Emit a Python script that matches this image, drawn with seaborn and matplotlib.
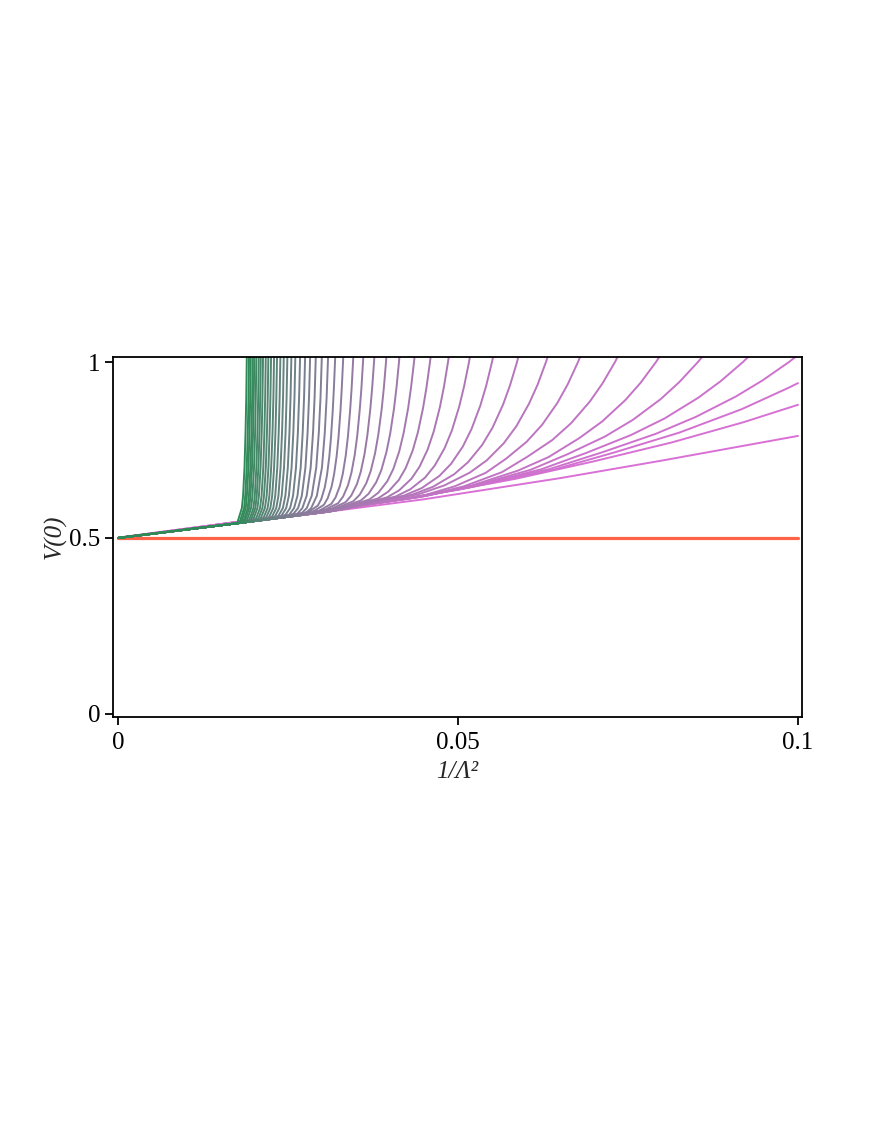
import numpy as np
import pandas as pd
import matplotlib
matplotlib.use("Agg")
import matplotlib.pyplot as plt
import seaborn as sns

# ============================================================
# DATA
# ============================================================
# shared lower branch that every curve starts on
BASE_X = [0.0, 0.018, 0.031, 0.045, 0.065, 0.080, 0.100]
BASE_Y = [0.500, 0.543, 0.575, 0.610, 0.670, 0.720, 0.790]

# steep (green -> grey) curves: x where each one passes these V(0) levels
GREEN_LEVELS = [0.585, 0.62, 0.70, 0.80, 0.90, 1.02]
GREEN_DEP_Y = [0.5419, 0.5426, 0.5432, 0.5439, 0.5445, 0.5452, 0.5460, 0.5467,
               0.5474, 0.5483, 0.5492, 0.5500, 0.5510, 0.5520, 0.5530, 0.5540,
               0.5551, 0.5563, 0.5574, 0.5587, 0.5601, 0.5614, 0.5629, 0.5644,
               0.5659]
GREEN_X = [
    [0.01752, 0.01821, 0.01839, 0.01860, 0.01875, 0.01886, 0.01894],
    [0.01785, 0.01854, 0.01871, 0.01893, 0.01908, 0.01919, 0.01927],
    [0.01810, 0.01878, 0.01895, 0.01918, 0.01933, 0.01944, 0.01952],
    [0.01838, 0.01907, 0.01925, 0.01947, 0.01963, 0.01973, 0.01982],
    [0.01860, 0.01929, 0.01948, 0.01970, 0.01986, 0.01996, 0.02005],
    [0.01888, 0.01957, 0.01977, 0.02000, 0.02016, 0.02026, 0.02035],
    [0.01921, 0.01991, 0.02011, 0.02034, 0.02050, 0.02061, 0.02070],
    [0.01949, 0.02019, 0.02040, 0.02064, 0.02080, 0.02091, 0.02100],
    [0.01980, 0.02050, 0.02072, 0.02096, 0.02113, 0.02124, 0.02133],
    [0.02016, 0.02088, 0.02111, 0.02136, 0.02152, 0.02164, 0.02173],
    [0.02051, 0.02123, 0.02147, 0.02173, 0.02190, 0.02202, 0.02211],
    [0.02086, 0.02160, 0.02186, 0.02212, 0.02229, 0.02241, 0.02251],
    [0.02125, 0.02200, 0.02226, 0.02252, 0.02272, 0.02285, 0.02295],
    [0.02164, 0.02240, 0.02267, 0.02295, 0.02315, 0.02328, 0.02339],
    [0.02205, 0.02283, 0.02312, 0.02342, 0.02363, 0.02377, 0.02388],
    [0.02248, 0.02327, 0.02359, 0.02390, 0.02412, 0.02427, 0.02438],
    [0.02291, 0.02373, 0.02407, 0.02441, 0.02464, 0.02479, 0.02491],
    [0.02339, 0.02424, 0.02461, 0.02497, 0.02521, 0.02537, 0.02550],
    [0.02385, 0.02473, 0.02513, 0.02552, 0.02578, 0.02595, 0.02608],
    [0.02439, 0.02530, 0.02574, 0.02617, 0.02645, 0.02663, 0.02678],
    [0.02495, 0.02589, 0.02639, 0.02686, 0.02716, 0.02736, 0.02752],
    [0.02549, 0.02648, 0.02703, 0.02756, 0.02788, 0.02809, 0.02826],
    [0.02609, 0.02711, 0.02774, 0.02833, 0.02868, 0.02891, 0.02909],
    [0.02670, 0.02776, 0.02849, 0.02915, 0.02953, 0.02978, 0.02998],
    [0.02731, 0.02841, 0.02924, 0.02999, 0.03041, 0.03068, 0.03090],
]

# slower (grey -> purple) curves, points along each one
PURPLE_X = [
    [0.02771, 0.02939, 0.02989, 0.03040, 0.03073, 0.03107, 0.03132, 0.03157, 0.03174, 0.03191, 0.03199],
    [0.02839, 0.03027, 0.03083, 0.03140, 0.03177, 0.03215, 0.03243, 0.03271, 0.03290, 0.03309, 0.03318],
    [0.02921, 0.03135, 0.03199, 0.03263, 0.03306, 0.03349, 0.03381, 0.03413, 0.03435, 0.03456, 0.03467],
    [0.02993, 0.03237, 0.03310, 0.03383, 0.03432, 0.03481, 0.03518, 0.03554, 0.03579, 0.03603, 0.03615],
    [0.03065, 0.03345, 0.03429, 0.03513, 0.03569, 0.03625, 0.03667, 0.03709, 0.03737, 0.03765, 0.03779],
    [0.03136, 0.03458, 0.03555, 0.03651, 0.03716, 0.03780, 0.03828, 0.03877, 0.03909, 0.03941, 0.03957],
    [0.03202, 0.03574, 0.03686, 0.03797, 0.03872, 0.03946, 0.04002, 0.04058, 0.04095, 0.04132, 0.04151],
    [0.03263, 0.03699, 0.03830, 0.03961, 0.04048, 0.04135, 0.04200, 0.04266, 0.04309, 0.04353, 0.04375],
    [0.03313, 0.03823, 0.03976, 0.04129, 0.04231, 0.04333, 0.04410, 0.04486, 0.04537, 0.04588, 0.04614],
    [0.03353, 0.03953, 0.04133, 0.04313, 0.04433, 0.04553, 0.04643, 0.04733, 0.04793, 0.04853, 0.04883],
    [0.03367, 0.04085, 0.04300, 0.04516, 0.04659, 0.04803, 0.04911, 0.05018, 0.05090, 0.05162, 0.05198],
    [0.03350, 0.04210, 0.04468, 0.04726, 0.04898, 0.05070, 0.05199, 0.05328, 0.05414, 0.05500, 0.05543],
    [0.03298, 0.04326, 0.04634, 0.04943, 0.05148, 0.05354, 0.05508, 0.05662, 0.05765, 0.05868, 0.05919],
    [0.03184, 0.04428, 0.04801, 0.05174, 0.05423, 0.05672, 0.05859, 0.06045, 0.06170, 0.06294, 0.06356],
    [0.02990, 0.04500, 0.04953, 0.05406, 0.05708, 0.06010, 0.06237, 0.06463, 0.06614, 0.06765, 0.06841],
    [0.02689, 0.04537, 0.05091, 0.05646, 0.06015, 0.06385, 0.06662, 0.06939, 0.07124, 0.07309, 0.07401],
    [0.02262, 0.04522, 0.05200, 0.05878, 0.06330, 0.06782, 0.07121, 0.07460, 0.07686, 0.07912, 0.08025],
    [0.01689, 0.04425, 0.05246, 0.06067, 0.06614, 0.07161, 0.07571, 0.07982, 0.08255, 0.08529, 0.08666],
    [0.00956, 0.04250, 0.05238, 0.06226, 0.06885, 0.07544, 0.08038, 0.08532, 0.08862, 0.09191, 0.09356],
    [0.00073, 0.03991, 0.05166, 0.06342, 0.07125, 0.07909, 0.08497, 0.09084, 0.09476, 0.09868, 0.10064],
]
PURPLE_Y = [
    [0.5697, 0.5921, 0.6106, 0.6434, 0.6785, 0.7307, 0.7857, 0.8597, 0.9230, 1.0, 1.0447],
    [0.5714, 0.5941, 0.6127, 0.6454, 0.6804, 0.7323, 0.7871, 0.8607, 0.9235, 1.0, 1.0445],
    [0.5734, 0.5966, 0.6152, 0.6479, 0.6828, 0.7343, 0.7886, 0.8617, 0.9241, 1.0, 1.0441],
    [0.5752, 0.5989, 0.6177, 0.6503, 0.6850, 0.7362, 0.7903, 0.8628, 0.9246, 1.0, 1.0437],
    [0.5768, 0.6014, 0.6202, 0.6528, 0.6874, 0.7384, 0.7920, 0.8640, 0.9253, 1.0, 1.0434],
    [0.5786, 0.6041, 0.6230, 0.6556, 0.6900, 0.7406, 0.7938, 0.8652, 0.9260, 1.0, 1.0429],
    [0.5802, 0.6068, 0.6259, 0.6584, 0.6927, 0.7431, 0.7958, 0.8666, 0.9267, 1.0, 1.0425],
    [0.5817, 0.6096, 0.6290, 0.6616, 0.6958, 0.7457, 0.7980, 0.8681, 0.9275, 1.0, 1.0420],
    [0.5829, 0.6124, 0.6320, 0.6647, 0.6988, 0.7483, 0.8002, 0.8694, 0.9283, 1.0, 1.0416],
    [0.5838, 0.6152, 0.6352, 0.6680, 0.7019, 0.7512, 0.8027, 0.8713, 0.9294, 1.0, 1.0408],
    [0.5842, 0.6180, 0.6386, 0.6717, 0.7061, 0.7553, 0.8061, 0.8736, 0.9313, 1.0, 1.0399],
    [0.5837, 0.6207, 0.6419, 0.6763, 0.7107, 0.7595, 0.8098, 0.8761, 0.9321, 1.0, 1.0392],
    [0.5823, 0.6231, 0.6457, 0.6810, 0.7155, 0.7640, 0.8135, 0.8788, 0.9337, 1.0, 1.0383],
    [0.5794, 0.6249, 0.6495, 0.6858, 0.7206, 0.7689, 0.8178, 0.8818, 0.9353, 1.0, 1.0373],
    [0.5736, 0.6212, 0.6469, 0.6850, 0.7254, 0.7735, 0.8216, 0.8842, 0.9368, 1.0, 1.0364],
    [0.5659, 0.6207, 0.6470, 0.6870, 0.7302, 0.7781, 0.8259, 0.8877, 0.9389, 1.0, 1.0349],
    [0.5554, 0.6192, 0.6490, 0.6911, 0.7297, 0.7835, 0.8312, 0.8916, 0.9411, 1.0, 1.0336],
    [0.5412, 0.6159, 0.6490, 0.6937, 0.7383, 0.7882, 0.8356, 0.8947, 0.9430, 1.0, 1.0323],
    [0.5236, 0.6109, 0.6472, 0.6953, 0.7416, 0.7925, 0.8396, 0.8983, 0.9453, 1.0, 1.0309],
    [0.5024, 0.6037, 0.6437, 0.6955, 0.7437, 0.7960, 0.8440, 0.9017, 0.9474, 1.0, 1.0294],
]

# the curves that never reach V(0)=1 before 1/L^2 = 0.1
LOW_X = [
    [0.0020, 0.0365, 0.0503, 0.0641, 0.0733, 0.0825, 0.0917, 0.0986, 0.1000],
    [0.0008, 0.0296, 0.0440, 0.0584, 0.0699, 0.0814, 0.0920, 0.1000],
]
LOW_Y = [
    [0.5058, 0.5945, 0.6380, 0.6942, 0.7448, 0.7991, 0.8658, 0.9266, 0.9400],
    [0.5030, 0.5762, 0.6163, 0.6679, 0.7174, 0.7713, 0.8290, 0.8784],
]

REF_X = [0.0, 0.1]
REF_Y = [0.5, 0.5]

X_TICKS = [0, 0.05, 0.1]
X_TICKLABELS = ["0", "0.05", "0.1"]
Y_TICKS = [0, 0.5, 1]
Y_TICKLABELS = ["0", "0.5", "1"]

# ============================================================
# BUILD LONG TABLE
# ============================================================
curves = []
for xs, dep_y in zip(GREEN_X, GREEN_DEP_Y):
    curves.append((xs, [dep_y] + GREEN_LEVELS))
for xs, ys in zip(PURPLE_X, PURPLE_Y):
    curves.append((xs, ys))
for xs, ys in zip(LOW_X, LOW_Y):
    curves.append((xs, ys))
curves.append((BASE_X, BASE_Y))

rows = []
for cid, (xs, ys) in enumerate(curves):
    # start on the shared branch, then follow the curve's own points
    pre = [(bx, by) for bx, by in zip(BASE_X, BASE_Y) if bx < xs[0]]
    if cid == len(curves) - 1:
        pre = []
    for px, py in pre + list(zip(xs, ys)):
        rows.append({"curve": cid, "x": px, "y": py})
df = pd.DataFrame(rows)

n = len(curves)
colors = sns.blend_palette(["seagreen", "orchid"], n_colors=n)
palette = {cid: colors[cid] for cid in range(n)}

# ============================================================
# PLOT
# ============================================================
sns.set_style("white")
plt.rcParams["font.family"] = ["Liberation Serif", "DejaVu Serif"]

fig = plt.figure(figsize=(8.72, 11.28), dpi=100)
ax = fig.add_axes([0.1296, 0.3644, 0.7901, 0.3191])

sns.lineplot(x=REF_X, y=REF_Y, color="tomato", linewidth=2.3, ax=ax)
sns.lineplot(data=df, x="x", y="y", hue="curve", palette=palette,
             hue_order=list(range(n))[::-1], estimator=None, sort=False,
             legend=False, linewidth=1.4, ax=ax)

ax.set_xlim(-0.00074, 0.10059)
ax.set_ylim(-0.0085, 1.0142)
ax.set_xticks(X_TICKS)
ax.set_xticklabels(X_TICKLABELS)
ax.set_yticks(Y_TICKS)
ax.set_yticklabels(Y_TICKLABELS)
ax.tick_params(axis="x", pad=5)
ax.tick_params(axis="y", pad=3)
ax.tick_params(direction="out", length=6, width=1.3, labelsize=18,
               colors="black", bottom=True, left=True)
for sp in ax.spines.values():
    sp.set_visible(True)
    sp.set_color("black")
    sp.set_linewidth(1.3)

ax.set_xlabel("1/Λ²", fontsize=18, fontstyle="italic", labelpad=5)
ax.set_ylabel("V(0)", fontsize=18, fontstyle="italic", labelpad=2)

fig.savefig("out.png", dpi=100, facecolor="white")
